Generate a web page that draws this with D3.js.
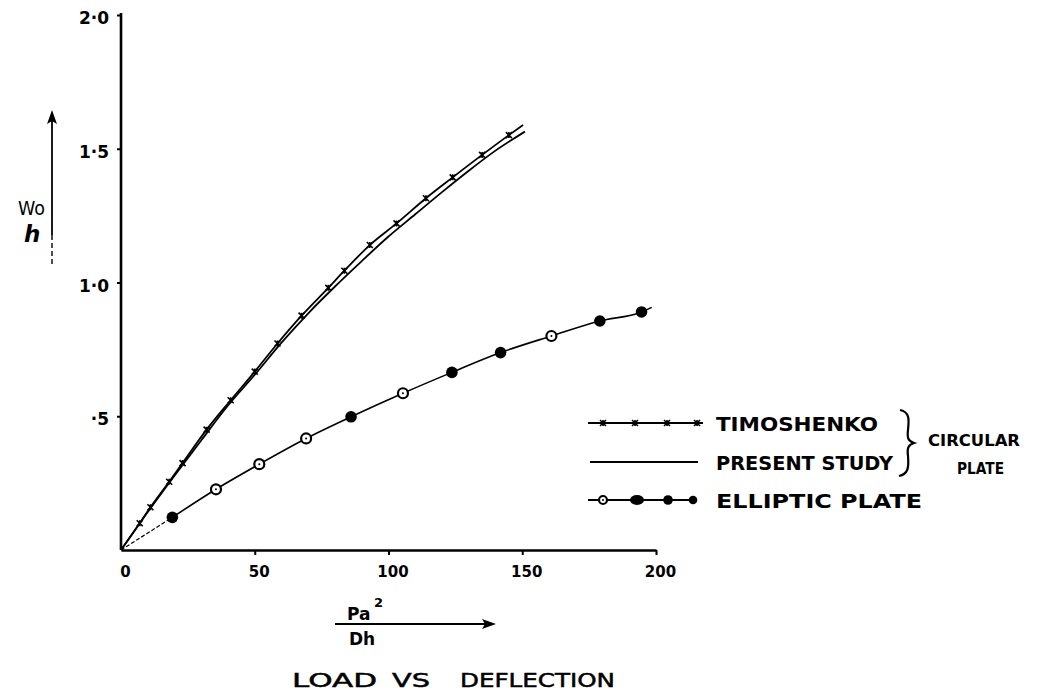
<!DOCTYPE html>
<html>
<head>
<meta charset="utf-8">
<script src="https://cdn.jsdelivr.net/npm/d3@7"></script>
<style>
  html, body { margin: 0; padding: 0; background: #fff; }
  svg { display: block; }
  text { font-family: "DejaVu Sans", "Liberation Sans", sans-serif; fill: #000; }
</style>
</head>
<body>
<svg id="chart" width="1048" height="693"></svg>
<script>
// ---- data ----
const xTicks = [0, 50, 100, 150, 200];
const xTickLabels = ["0", "50", "100", "150", "200"];
const yTicks = [0.5, 1.0, 1.5, 2.0];
const yTickLabels = ["·5", "1·0", "1·5", "2·0"];

const timoX = [0, 7, 11, 18, 23, 32, 41, 50, 58.5, 67.5, 77.5, 83.5, 93, 103, 114, 124, 135, 145, 150.3];
const timoY = [0, 0.10, 0.16, 0.255, 0.325, 0.45, 0.56, 0.667, 0.772, 0.876, 0.98, 1.044, 1.14, 1.221, 1.315, 1.393, 1.477, 1.551, 1.589];

const presentX = [0, 10, 20, 30, 40, 50, 60, 70, 80, 90, 100, 110, 120, 130, 140, 151];
const presentY = [0, 0.142, 0.278, 0.41, 0.54, 0.655, 0.775, 0.885, 0.985, 1.08, 1.172, 1.255, 1.338, 1.418, 1.493, 1.564];

const ellX = [0, 19.2, 35.5, 51.7, 69.2, 86, 105.4, 123.7, 141.9, 160.9, 179, 194.6, 198.4];
const ellY = [0, 0.122, 0.227, 0.321, 0.417, 0.498, 0.586, 0.664, 0.738, 0.80, 0.856, 0.89, 0.907];
const ellMarker = ["none", "filled", "ring", "ring", "ring", "filled", "ring", "filled", "filled", "ring", "filled", "filled", "none"];

const legendLabels = ["TIMOSHENKO", "PRESENT STUDY", "ELLIPTIC PLATE"];
const groupLabel = ["CIRCULAR", "PLATE"];
const xTitle = ["Pa", "2", "Dh"];
const yTitle = ["Wo", "h"];
const titleWords = ["LOAD", "VS", "DEFLECTION"];

// ---- scales ----
const svg = d3.select("#chart");
const x = d3.scaleLinear().domain([0, 200]).range([121, 656]);
const y = d3.scaleLinear().domain([0, 2]).range([550, 15]);

// ---- axes ----
const gx = svg.append("g").attr("transform", `translate(0,${y(0)})`)
  .call(d3.axisBottom(x).tickValues(xTicks).tickSize(5).tickSizeOuter(0).tickPadding(11)
    .tickFormat((d, i) => xTickLabels[i]));
gx.select(".domain").attr("stroke-width", 2.6);
gx.selectAll(".tick line").attr("stroke-width", 2);
gx.selectAll(".tick").filter(d => d === 0).select("line").remove();
gx.selectAll("text").attr("font-size", 15).attr("font-weight", "bold").attr("dx", 4);

const gy = svg.append("g").attr("transform", `translate(${x(0)},0)`)
  .call(d3.axisLeft(y).tickValues(yTicks).tickSize(4).tickSizeOuter(0).tickPadding(8)
    .tickFormat((d, i) => yTickLabels[i]));
gy.select(".domain").attr("stroke-width", 2.6).attr("d", `M0,${y(0)}V${y(2) - 2}`);
gy.selectAll(".tick line").attr("stroke-width", 2);
gy.selectAll("text").attr("font-size", 17).attr("font-weight", "bold").attr("dy", "0.5em");

// ---- lines ----
const line = d3.line().x(d => x(d[0])).y(d => y(d[1])).curve(d3.curveMonotoneX);
const timo = timoX.map((v, i) => [v, timoY[i]]);
const pres = presentX.map((v, i) => [v, presentY[i]]);
const ell = ellX.map((v, i) => [v, ellY[i]]);

svg.append("path").attr("d", line(timo)).attr("fill", "none").attr("stroke", "#000").attr("stroke-width", 1.8);
svg.append("path").attr("d", line(pres)).attr("fill", "none").attr("stroke", "#000").attr("stroke-width", 1.8);

// Timoshenko star markers
function star(g, cx, cy, s) {
  g.append("path")
    .attr("d", `M${cx - s},${cy - s}L${cx + s},${cy + s}M${cx - s},${cy + s}L${cx + s},${cy - s}M${cx},${cy - s}L${cx},${cy + s}`)
    .attr("stroke", "#000").attr("stroke-width", 1.6).attr("fill", "none");
}
const starG = svg.append("g");
timo.slice(1, -1).forEach(d => star(starG, x(d[0]), y(d[1]), 3));

// Elliptic plate: dashed first segment, then solid
svg.append("path").attr("d", d3.line().x(d => x(d[0])).y(d => y(d[1]))(ell.slice(0, 2)))
  .attr("fill", "none").attr("stroke", "#000").attr("stroke-width", 1.2).attr("stroke-dasharray", "4,2");
svg.append("path").attr("d", line(ell.slice(1))).attr("fill", "none").attr("stroke", "#000").attr("stroke-width", 1.6);

function marker(g, cx, cy, type, r) {
  if (type === "filled") {
    g.append("circle").attr("cx", cx).attr("cy", cy).attr("r", r + 0.8).attr("fill", "#000");
  } else if (type === "ring") {
    g.append("circle").attr("cx", cx).attr("cy", cy).attr("r", r).attr("fill", "#fff")
      .attr("stroke", "#000").attr("stroke-width", 2.2);
    g.append("circle").attr("cx", cx).attr("cy", cy).attr("r", 1).attr("fill", "#000");
  }
}
const mG = svg.append("g");
ell.forEach((d, i) => marker(mG, x(d[0]), y(d[1]), ellMarker[i], 5));

// ---- legend ----
const lg = svg.append("g");
lg.append("line").attr("x1", 588).attr("x2", 703).attr("y1", 423).attr("y2", 423).attr("stroke", "#000").attr("stroke-width", 2);
[603, 635, 667, 697].forEach(cx => star(lg, cx, 423, 3));
lg.append("line").attr("x1", 590).attr("x2", 698).attr("y1", 462).attr("y2", 462).attr("stroke", "#000").attr("stroke-width", 1.8);
lg.append("line").attr("x1", 588).attr("x2", 697).attr("y1", 500).attr("y2", 500).attr("stroke", "#000").attr("stroke-width", 1.8);
marker(lg, 603, 500, "ring", 4);
lg.append("ellipse").attr("cx", 637).attr("cy", 500).attr("rx", 7).attr("ry", 5).attr("fill", "#000");
marker(lg, 668, 500, "filled", 4);
marker(lg, 693, 500, "filled", 3.5);

const legY = [423, 462, 500];
const legEnd = [878, 893, 922];
legendLabels.forEach((t, i) => {
  lg.append("text").attr("x", 716).attr("y", legY[i] + 7.5).attr("font-size", 20).attr("font-weight", "bold")
    .attr("textLength", legEnd[i] - 716).attr("lengthAdjust", "spacingAndGlyphs").text(t);
});
// brace
lg.append("path")
  .attr("d", "M900,410 C910,412 909,420 908,430 C907,438 908,441 914,443 C908,445 907,448 908,456 C909,468 908,474 899,476")
  .attr("fill", "none").attr("stroke", "#000").attr("stroke-width", 2.2);
lg.append("text").attr("x", 928).attr("y", 446).attr("font-size", 15).attr("font-weight", "bold")
  .attr("textLength", 92).attr("lengthAdjust", "spacingAndGlyphs").text(groupLabel[0]);
lg.append("text").attr("x", 957).attr("y", 474).attr("font-size", 15).attr("font-weight", "bold")
  .attr("textLength", 47).attr("lengthAdjust", "spacingAndGlyphs").text(groupLabel[1]);

// ---- axis titles ----
// y title with arrow
svg.append("line").attr("x1", 52).attr("x2", 52).attr("y1", 118).attr("y2", 235).attr("stroke", "#000").attr("stroke-width", 1.8);
svg.append("line").attr("x1", 52).attr("x2", 52).attr("y1", 235).attr("y2", 267).attr("stroke", "#000").attr("stroke-width", 1.4).attr("stroke-dasharray", "5,3");
svg.append("path").attr("d", "M52,110 L47,124 L52,121 L57,124 Z").attr("fill", "#000");
svg.append("text").attr("x", 18).attr("y", 215).attr("font-size", 20).attr("textLength", 27).attr("lengthAdjust", "spacingAndGlyphs").text(yTitle[0]);
svg.append("text").attr("x", 24).attr("y", 242).attr("font-size", 23).attr("font-style", "italic").attr("font-weight", "bold").text(yTitle[1]);

// x title with arrow
svg.append("text").attr("x", 347).attr("y", 620).attr("font-size", 17).attr("font-weight", "bold").text(xTitle[0]);
svg.append("text").attr("x", 374).attr("y", 607).attr("font-size", 13).attr("font-weight", "bold").text(xTitle[1]);
svg.append("line").attr("x1", 335).attr("x2", 490).attr("y1", 624).attr("y2", 624).attr("stroke", "#000").attr("stroke-width", 2);
svg.append("path").attr("d", "M496,624 L482,619 L485,624 L482,629 Z").attr("fill", "#000");
svg.append("text").attr("x", 349).attr("y", 645).attr("font-size", 17).attr("font-weight", "bold").text(xTitle[2]);

// chart title
const titleX = [292, 392, 460];
const titleW = [85, 38, 155];
titleWords.forEach((w, i) => {
  svg.append("text").attr("x", titleX[i]).attr("y", 687).attr("font-size", 20)
    .attr("stroke", "#000").attr("stroke-width", 0.5)
    .attr("textLength", titleW[i]).attr("lengthAdjust", "spacingAndGlyphs").text(w);
});
</script>
</body>
</html>
